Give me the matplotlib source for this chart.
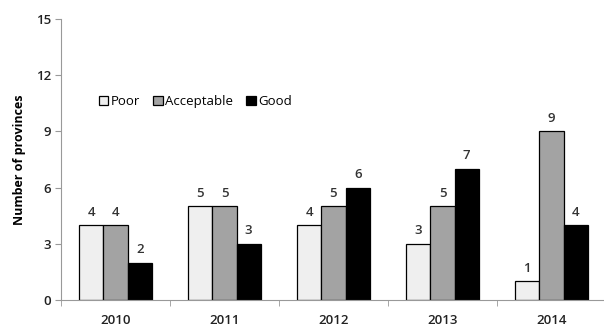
import matplotlib.pyplot as plt
import numpy as np

years = ['2010', '2011', '2012', '2013', '2014']
series_names = ['Poor', 'Acceptable', 'Good']
poor = [4, 5, 4, 3, 1]
acceptable = [4, 5, 5, 5, 9]
good = [2, 3, 6, 7, 4]
colors = ['#efefef', '#a3a3a3', '#000000']

plt.rcParams['font.family'] = ['Open Sans', 'DejaVu Sans']

fig = plt.figure(figsize=(6.04, 3.26), dpi=100)
ax = fig.add_axes([61 / 604, 26 / 326, 545 / 604, 281 / 326])

x = np.arange(len(years))
width = 1 / 4.5
for k, (vals, name) in enumerate(zip([poor, acceptable, good], series_names)):
    pos = x + (k - 1) * width
    bars = ax.bar(pos, vals, width, color=colors[k], edgecolor='black',
                  linewidth=0.9, label=name)
    for b, v in zip(bars, vals):
        ax.text(b.get_x() + b.get_width() / 2, v + 0.35, str(v),
                ha='center', va='bottom', fontsize=9.5, fontweight='semibold',
                color='#333333')

ax.set_xlim(-0.5, len(years) - 0.5)
ax.set_ylim(0, 15)
ax.set_yticks([0, 3, 6, 9, 12, 15])
ax.set_xticks(x)
ax.set_xticklabels(years)
ax.set_xticks(np.arange(-0.5, len(years)), minor=True)
ax.tick_params(axis='x', which='major', length=0, pad=10, labelsize=9.5)
ax.tick_params(axis='x', which='minor', length=4, color='#999999', direction='out')
ax.tick_params(axis='y', length=4, color='#999999', labelsize=9.5, pad=3)
for lbl in ax.get_xticklabels() + ax.get_yticklabels():
    lbl.set_fontweight('semibold')
    lbl.set_color('#222222')

for side in ['top', 'right']:
    ax.spines[side].set_visible(False)
ax.spines['left'].set_color('#999999')
ax.spines['bottom'].set_color('#999999')

ax.set_ylabel('Number of provinces', fontsize=9, fontweight='bold', labelpad=7)

ax.legend(loc='center left', bbox_to_anchor=(0.06, 0.705), ncol=3, frameon=False,
          fontsize=9.5, handlelength=0.7, handleheight=0.7, handletextpad=0.2,
          columnspacing=1.0, borderaxespad=0)

fig.savefig('out.png', dpi=100)
